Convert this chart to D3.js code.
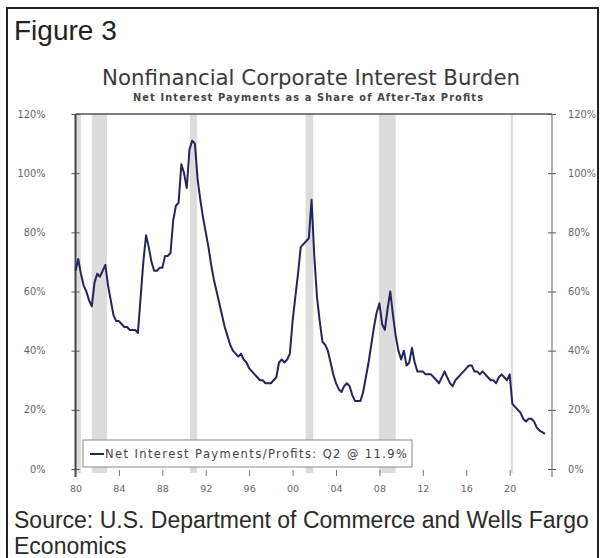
<!DOCTYPE html>
<html>
<head>
<meta charset="utf-8">
<script src="https://cdnjs.cloudflare.com/ajax/libs/d3/7.8.5/d3.min.js"></script>
<style>
  body { margin: 0; background: #fff; }
  svg { display: block; }
</style>
</head>
<body>
<div id="chart"></div>
<script>
// quarterly net interest / after-tax profits, %, starting 1980 Q1
var startYear = 1980;
var burden = [
  67, 71, 66, 62,      // 1980
  60, 57, 55, 63,      // 1981
  66, 65, 67, 69,      // 1982
  62, 57, 52, 50,      // 1983
  50, 49, 48, 48,      // 1984
  47, 47, 47, 46,      // 1985
  58, 70, 79, 75,      // 1986
  70, 67, 67, 68,      // 1987
  68, 72, 72, 73,      // 1988
  84, 89, 90, 103,     // 1989
  100, 95, 108, 111,   // 1990
  110, 98, 91, 85,     // 1991
  80, 75, 69, 64,      // 1992
  60, 56, 52, 48,      // 1993
  45, 42, 40, 39,      // 1994
  38, 39, 37, 36,      // 1995
  34, 33, 32, 31,      // 1996
  30, 30, 29, 29,      // 1997
  29, 30, 31, 36,      // 1998
  37, 36, 37, 39,      // 1999
  50, 58, 66, 75,      // 2000
  76, 77, 78, 91,      // 2001
  72, 58, 50, 43,      // 2002
  42, 40, 36, 32,      // 2003
  29, 27, 26, 28,      // 2004
  29, 28, 25, 23,      // 2005
  23, 23, 26, 31,      // 2006
  36, 42, 48, 53,      // 2007
  56, 49, 47, 54,      // 2008
  60, 52, 45, 40,      // 2009
  37, 40, 35, 36,      // 2010
  41, 36, 33, 33,      // 2011
  33, 32, 32, 32,      // 2012
  31, 30, 29, 31,      // 2013
  33, 31, 29, 28,      // 2014
  30, 31, 32, 33,      // 2015
  34, 35, 35, 33,      // 2016
  33, 32, 33, 32,      // 2017
  31, 30, 30, 29,      // 2018
  31, 32, 31, 30,      // 2019
  32, 22, 21, 20,      // 2020
  19, 17, 16, 17,      // 2021
  17, 16, 14, 13,      // 2022
  12.5, 11.9           // 2023
];

// recession periods (shaded)
var recessions = [
  [1980.0, 1980.5],
  [1981.5, 1982.9],
  [1990.55, 1991.2],
  [2001.2, 2001.9],
  [2007.95, 2009.5],
  [2020.1, 2020.3]
];

var xTickYears = [1980, 1984, 1988, 1992, 1996, 2000, 2004, 2008, 2012, 2016, 2020];
var xTickLabels = ["80", "84", "88", "92", "96", "00", "04", "08", "12", "16", "20"];
var yTicks = [0, 20, 40, 60, 80, 100, 120];

var legendText = "Net Interest Payments/Profits: Q2 @ 11.9%";

var W = 604, H = 558;

var svg = d3.select("#chart").append("svg")
  .attr("width", W)
  .attr("height", H);

svg.append("rect").attr("width", W).attr("height", H).attr("fill", "#fff");

// outer frame
svg.append("rect")
  .attr("x", 7).attr("y", 8)
  .attr("width", 591).attr("height", 560)
  .attr("fill", "none")
  .attr("stroke", "#222")
  .attr("stroke-width", 2);

var x = d3.scaleLinear().domain([1980, 2023.9]).range([75.5, 552]);
var y = d3.scaleLinear().domain([0, 120]).range([469, 114]);

var data = burden.map(function(v, i) {
  return { t: startYear + i / 4, v: v };
});

// shading
svg.append("g").selectAll("rect")
  .data(recessions)
  .enter().append("rect")
  .attr("x", function(d) { return x(d[0]); })
  .attr("y", y(120))
  .attr("width", function(d) { return Math.max(1.5, x(d[1]) - x(d[0])); })
  .attr("height", y(0) + 4 - y(120))
  .attr("fill", "#dcdcdc");

// top frame line
svg.append("line")
  .attr("x1", x(1980)).attr("x2", x.range()[1])
  .attr("y1", y(120)).attr("y2", y(120))
  .attr("stroke", "#555").attr("stroke-width", 1.5);

// left + right axes
var yl = d3.axisLeft(y).tickValues(yTicks).tickSize(5).tickFormat(function(d) { return d + "%"; });
var yr = d3.axisRight(y).tickValues(yTicks).tickSize(5).tickFormat(function(d) { return d + "%"; });

var gl = svg.append("g").attr("transform", "translate(" + x(1980) + ",0)").call(yl);
var gr = svg.append("g").attr("transform", "translate(" + x.range()[1] + ",0)").call(yr);

[gl, gr].forEach(function(g) {
  g.select(".domain").remove();
  g.selectAll(".tick line").attr("stroke", "#555").attr("x1", -4).attr("x2", 4);
  g.selectAll(".tick text")
    .attr("font-family", "DejaVu Sans")
    .attr("font-size", 9.8)
    .attr("fill", "#666");
});
gl.selectAll(".tick text").attr("x", -30);
gr.selectAll(".tick text").attr("x", 16);

svg.append("line")
  .attr("x1", x(1980)).attr("x2", x(1980))
  .attr("y1", y(120)).attr("y2", y(0) + 8)
  .attr("stroke", "#444").attr("stroke-width", 2);
svg.append("line")
  .attr("x1", x.range()[1]).attr("x2", x.range()[1])
  .attr("y1", y(120)).attr("y2", y(0) + 8)
  .attr("stroke", "#777").attr("stroke-width", 1.2);

// bottom axis, no baseline
var xa = d3.axisBottom(x).tickValues(xTickYears).tickSize(6)
  .tickFormat(function(d, i) { return xTickLabels[i]; });
var gx = svg.append("g").attr("transform", "translate(0," + (y(0) + 1) + ")").call(xa);
gx.select(".domain").remove();
gx.selectAll(".tick line").attr("stroke", "#777");
gx.selectAll(".tick text")
  .attr("font-family", "DejaVu Sans")
  .attr("font-size", 9.5)
  .attr("fill", "#666")
  .attr("y", 15);

// the series
var line = d3.line()
  .x(function(d) { return x(d.t); })
  .y(function(d) { return y(d.v); });

svg.append("path")
  .datum(data)
  .attr("d", line)
  .attr("fill", "none")
  .attr("stroke", "#24245e")
  .attr("stroke-width", 2)
  .attr("stroke-linejoin", "round");

// legend
var lg = svg.append("g");
lg.append("rect")
  .attr("x", 83).attr("y", 440)
  .attr("width", 329).attr("height", 27)
  .attr("fill", "#fff")
  .attr("stroke", "#888");
lg.append("line")
  .attr("x1", 90).attr("x2", 104)
  .attr("y1", 454).attr("y2", 454)
  .attr("stroke", "#24245e").attr("stroke-width", 2);
lg.append("text")
  .attr("x", 105).attr("y", 458)
  .attr("font-family", "DejaVu Sans")
  .attr("font-size", 11.5)
  .attr("textLength", 302)
  .attr("fill", "#444")
  .text(legendText);

// titles
svg.append("text")
  .attr("x", 14).attr("y", 40)
  .attr("font-family", "Liberation Sans, Arial")
  .attr("font-size", 28)
  .attr("fill", "#222")
  .text("Figure 3");

svg.append("text")
  .attr("x", 311).attr("y", 85)
  .attr("text-anchor", "middle")
  .attr("font-family", "DejaVu Sans")
  .attr("font-size", 21.3)
  .attr("fill", "#3a3a3a")
  .text("Nonfinancial Corporate Interest Burden");

svg.append("text")
  .attr("x", 308).attr("y", 101)
  .attr("text-anchor", "middle")
  .attr("font-family", "DejaVu Sans")
  .attr("font-weight", "bold")
  .attr("font-size", 9.8)
  .attr("textLength", 350)
  .attr("fill", "#444")
  .text("Net Interest Payments as a Share of After-Tax Profits");

svg.append("text")
  .attr("x", 14).attr("y", 528)
  .attr("font-family", "Liberation Sans, Arial")
  .attr("font-size", 23)
  .attr("fill", "#2a2a2a")
  .text("Source: U.S. Department of Commerce and Wells Fargo");

svg.append("text")
  .attr("x", 14).attr("y", 554)
  .attr("font-family", "Liberation Sans, Arial")
  .attr("font-size", 23)
  .attr("fill", "#2a2a2a")
  .text("Economics");
</script>
</body>
</html>
